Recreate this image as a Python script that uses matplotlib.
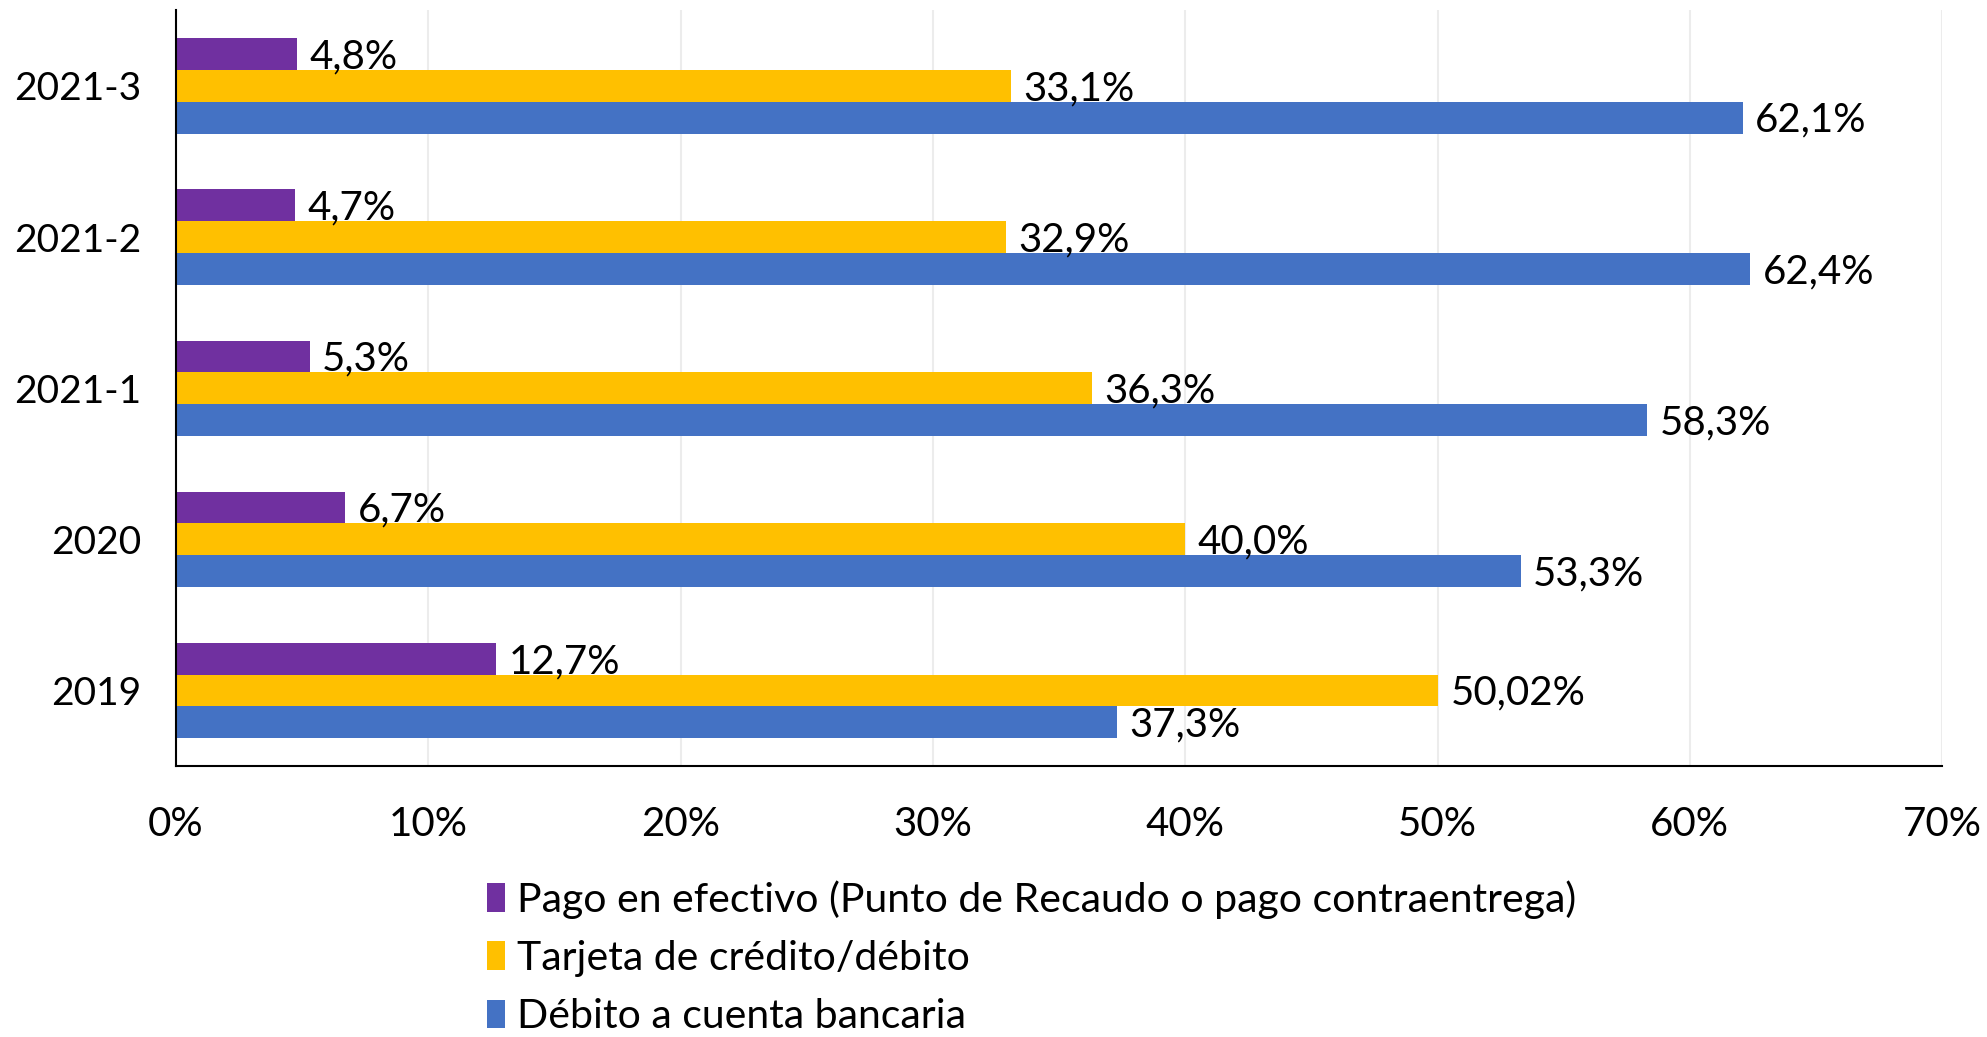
import numpy as np
import matplotlib
matplotlib.use('Agg')
import matplotlib.pyplot as plt
from matplotlib.patches import Patch

plt.rcParams['font.family'] = ['Lato', 'DejaVu Sans']

# data (bottom to top)
periods = ['2019', '2020', '2021-1', '2021-2', '2021-3']
series_names = ['Pago en efectivo (Punto de Recaudo o pago contraentrega)',
                'Tarjeta de crédito/débito',
                'Débito a cuenta bancaria']
efectivo = [12.7, 6.7, 5.3, 4.7, 4.8]
tarjeta = [50.02, 40.0, 36.3, 32.9, 33.1]
debito = [37.3, 53.3, 58.3, 62.4, 62.1]
efectivo_lbl = ['12,7%', '6,7%', '5,3%', '4,7%', '4,8%']
tarjeta_lbl = ['50,02%', '40,0%', '36,3%', '32,9%', '33,1%']
debito_lbl = ['37,3%', '53,3%', '58,3%', '62,4%', '62,1%']
x_ticks = [0, 10, 20, 30, 40, 50, 60, 70]

colors = ['#7030A0', '#FFC000', '#4472C4']

fig = plt.figure(figsize=(19.87, 10.37), dpi=100)
ax = fig.add_axes([0.0886, 0.2613, 0.8888, 0.7287])

y = np.arange(len(periods))
h = 0.21
offsets = [h, 0, -h]
fs = 29

for vals, lbls, off, c in zip([efectivo, tarjeta, debito],
                              [efectivo_lbl, tarjeta_lbl, debito_lbl],
                              offsets, colors):
    ax.barh(y + off, vals, height=h, color=c, zorder=2)
    for yi, v, t in zip(y, vals, lbls):
        ax.annotate(t, (v, yi + off), xytext=(9, -2), textcoords='offset points',
                    va='center', ha='left', fontsize=fs, zorder=3)

ax.set_xlim(0, 70)
ax.set_ylim(-0.5, len(periods) - 0.5)
ax.set_xticks(x_ticks)
ax.set_xticklabels([f'{t}%' for t in x_ticks], fontsize=fs)
ax.set_yticks(y)
ax.set_yticklabels(periods, fontsize=28)
ax.tick_params(axis='both', length=0)
ax.tick_params(axis='x', pad=29)
ax.tick_params(axis='y', pad=25)

ax.grid(axis='x', color='#ececec', linewidth=1.5, zorder=0)
for s in ['top', 'right']:
    ax.spines[s].set_visible(False)
ax.spines['left'].set_linewidth(1.5)
ax.spines['bottom'].set_linewidth(1.5)

handles = [Patch(facecolor=c, label=n) for c, n in zip(colors, series_names)]
fig.legend(handles=handles, loc='upper left', bbox_to_anchor=(0.237, 0.167),
           frameon=False, fontsize=29.5, handlelength=0.42, handleheight=0.7,
           handletextpad=0.3, labelspacing=0.52, borderaxespad=0)

fig.savefig('out.png', dpi=100)
